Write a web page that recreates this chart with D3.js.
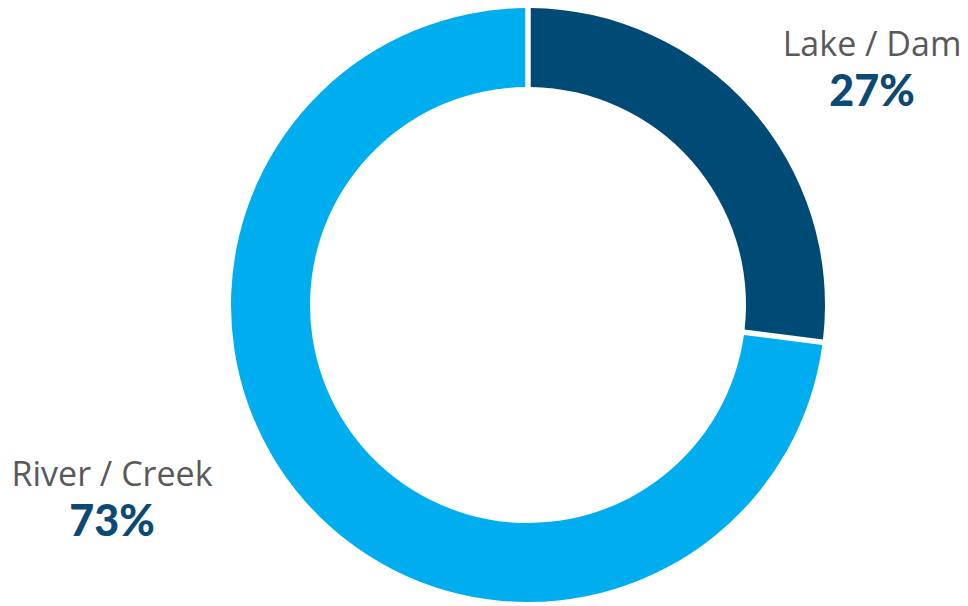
<!DOCTYPE html>
<html>
<head>
<meta charset="utf-8">
<script src="https://cdn.jsdelivr.net/npm/d3@7/dist/d3.min.js"></script>
<style>
  html, body { margin: 0; padding: 0; background: #fff; }
  svg { display: block; }
</style>
</head>
<body>
<svg id="chart" width="968" height="606"></svg>
<script>
// Water source share
const categories = ["Lake / Dam", "River / Creek"];
const shares = [27, 73];
const colors = ["#004b76", "#00adef"];

const width = 968, height = 606;
const cx = 528, cy = 305;
const outerR = 297, innerR = 218;

const svg = d3.select("#chart");

const pie = d3.pie().sort(null).value(d => d.value);
const arcs = pie(categories.map((c, i) => ({ name: c, value: shares[i], color: colors[i] })));

const arc = d3.arc()
  .innerRadius(innerR)
  .outerRadius(outerR)
  .padRadius(outerR)
  .padAngle(5.5 / outerR);

const g = svg.append("g").attr("transform", `translate(${cx},${cy})`);
g.selectAll("path")
  .data(arcs)
  .join("path")
  .attr("d", arc)
  .attr("fill", d => d.data.color);

// Labels: category name above the percentage
const labelPos = [
  { x: 872, y: 56 },
  { x: 112, y: 486 }
];

const labels = svg.append("g")
  .selectAll("g")
  .data(arcs)
  .join("g")
  .attr("transform", (d, i) => `translate(${labelPos[i].x},${labelPos[i].y})`);

labels.append("text")
  .attr("text-anchor", "middle")
  .attr("font-family", "'Open Sans', sans-serif")
  .attr("font-size", 34)
  .attr("fill", "#595959")
  .text(d => d.data.name);

labels.append("text")
  .attr("text-anchor", "middle")
  .attr("y", 50)
  .attr("font-family", "Lato, sans-serif")
  .attr("font-weight", 900)
  .attr("font-size", 43)
  .attr("fill", "#0b4a74")
  .text(d => d.data.value + "%");
</script>
</body>
</html>
